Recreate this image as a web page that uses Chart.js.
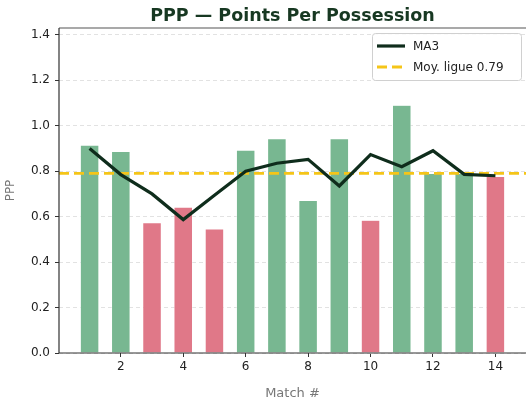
<!DOCTYPE html>
<html>
<head>
<meta charset="utf-8">
<script src="https://cdn.jsdelivr.net/npm/chart.js@4"></script>
<style>
  html, body { margin: 0; padding: 0; background: #fff; }
  #wrap { width: 526px; height: 405px; }
</style>
</head>
<body>
<div id="wrap"><canvas id="ppp"></canvas></div>
<script>
// --- data ---
const matches = [1, 2, 3, 4, 5, 6, 7, 8, 9, 10, 11, 12, 13, 14];
const pppValues = [0.915, 0.887, 0.573, 0.642, 0.546, 0.893, 0.943, 0.671, 0.943, 0.584, 1.09, 0.79, 0.79, 0.777];
const matchWon = [true, true, false, false, false, true, true, true, true, false, true, true, true, false];
const ma3Values = [0.90, 0.785, 0.70, 0.587, 0.694, 0.80, 0.835, 0.852, 0.735, 0.873, 0.82, 0.89, 0.786, 0.78];
const leagueAvg = 0.79;
const xTicks = [2, 4, 6, 8, 10, 12, 14];
const yTicks = [0, 0.2, 0.4, 0.6, 0.8, 1.0, 1.2, 1.4];
const xRange = [0.02, 14.98];
const yRange = [0, 1.43];
const chartTitle = 'PPP — Points Per Possession';

const GREEN = '#78b791';
const RED = '#e07888';
const DARK = '#0f2d1c';
const GOLD = '#f5c518';
const FONT = "'DejaVu Sans', sans-serif";

// title centred over the axes, frame and legend drawn on top like matplotlib
// (the right spine falls just outside the picture, so it is not drawn)
const framePlugin = {
    id: 'frame',
    afterDatasetsDraw(chart) {
        const { ctx, chartArea: a, width } = chart;
        const right = Math.max(a.right, width);
        ctx.save();
        ctx.fillStyle = '#173822';
        ctx.font = 'bold 17.5px ' + FONT;
        ctx.textAlign = 'center';
        ctx.textBaseline = 'alphabetic';
        ctx.fillText(chartTitle, (a.left + a.right) / 2, 21);
        ctx.textAlign = 'left';

        ctx.lineWidth = 1.2;
        ctx.strokeStyle = '#555';
        ctx.beginPath();
        ctx.moveTo(a.left, a.top); ctx.lineTo(right, a.top);
        ctx.stroke();
        ctx.strokeStyle = '#333';
        ctx.beginPath();
        ctx.moveTo(a.left, a.top); ctx.lineTo(a.left, a.bottom); ctx.lineTo(right, a.bottom);
        ctx.stroke();

        // legend box, upper right
        const items = chart.data.datasets.filter(d => d.type === 'line');
        const w = 149, h = 47;
        const x = width - w - 5, y = a.top + 5;
        ctx.fillStyle = 'rgba(255,255,255,0.85)';
        ctx.strokeStyle = '#d0d0d0';
        ctx.lineWidth = 1;
        ctx.beginPath();
        ctx.roundRect(x + 0.5, y + 0.5, w, h, 3);
        ctx.fill(); ctx.stroke();
        ctx.font = '12px ' + FONT;
        ctx.textBaseline = 'middle';
        items.forEach((d, i) => {
            const ly = y + 13 + i * 21;
            ctx.strokeStyle = d.borderColor;
            ctx.lineWidth = d.borderWidth;
            ctx.setLineDash(d.borderDash || []);
            ctx.beginPath();
            ctx.moveTo(x + 5, ly); ctx.lineTo(x + 33, ly);
            ctx.stroke();
            ctx.setLineDash([]);
            ctx.fillStyle = '#222';
            ctx.fillText(d.label, x + 41, ly + 1);
        });
        ctx.restore();
    }
};

new Chart(document.getElementById('ppp'), {
    data: {
        datasets: [
            {
                type: 'bar',
                label: 'PPP',
                data: matches.map((m, i) => ({ x: m, y: pppValues[i] })),
                backgroundColor: matchWon.map(w => w ? GREEN : RED),
                borderColor: '#ffffff',
                borderWidth: 0.6,
                barPercentage: 0.6,
                categoryPercentage: 1.0,
                order: 3
            },
            {
                type: 'line',
                label: 'MA3',
                data: matches.map((m, i) => ({ x: m, y: ma3Values[i] })),
                borderColor: DARK,
                borderWidth: 3.2,
                pointRadius: 0,
                tension: 0,
                order: 1
            },
            {
                type: 'line',
                label: 'Moy. ligue ' + leagueAvg.toFixed(2),
                data: xRange.map(x => ({ x: x, y: leagueAvg })),
                borderColor: GOLD,
                borderWidth: 2.8,
                borderDash: [10, 5],
                pointRadius: 0,
                order: 2
            }
        ]
    },
    options: {
        responsive: true,
        maintainAspectRatio: false,
        animation: false,
        devicePixelRatio: 1,
        layout: { padding: { left: 0, right: -2, top: 28, bottom: 0 } },
        plugins: {
            legend: { display: false },
            tooltip: { enabled: false },
            title: { display: false }
        },
        scales: {
            x: {
                type: 'linear',
                offset: false,
                min: xRange[0],
                max: xRange[1],
                afterBuildTicks: s => { s.ticks = xTicks.map(v => ({ value: v })); },
                afterFit: s => { s.height = 52; },
                grid: { offset: false, drawOnChartArea: false, drawTicks: true, tickLength: 4, tickColor: '#333' },
                border: { display: false },
                ticks: { autoSkip: false, color: '#222', font: { family: FONT, size: 12 }, padding: 3, maxRotation: 0 },
                title: { display: true, text: 'Match #', color: '#777', font: { family: FONT, size: 13 }, padding: { top: 2 } }
            },
            y: {
                min: yRange[0],
                max: yRange[1],
                afterBuildTicks: s => { s.ticks = yTicks.map(v => ({ value: v })); },
                afterFit: s => { s.width = 59; },
                grid: { color: '#e2e2e2', borderDash: [4, 3], tickColor: '#333', tickLength: 4, tickBorderDash: [] },
                border: { display: false, dash: [4, 3] },
                ticks: { color: '#222', font: { family: FONT, size: 12 }, padding: 5, callback: v => v.toFixed(1) },
                title: { display: true, text: 'PPP', color: '#777', font: { family: FONT, size: 12 }, padding: { bottom: 4 } }
            }
        }
    },
    plugins: [framePlugin]
});
</script>
</body>
</html>
